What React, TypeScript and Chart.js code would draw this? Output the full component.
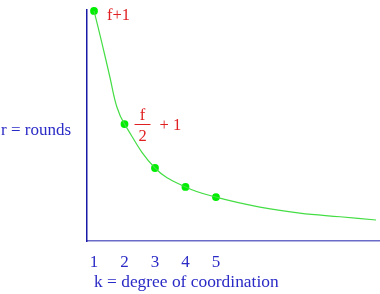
import { useEffect, useRef } from "react";
import { Chart, registerables } from "chart.js";

Chart.register(...registerables);

// k values of the marked points and their r values
const pointK = [1, 2, 3, 4, 5];
const pointR = [9.96, 5.06, 3.16, 2.34, 1.9];
// samples
const curveK = [1, 1.26, 1.52, 1.75, 2, 3, 4, 5, 6.44, 7.75, 9.07, 10.25];
const curveR = [9.96, 8.57, 7.1, 5.8, 5.06, 3.16, 2.34, 1.9, 1.47, 1.21, 1.05, 0.91];
const xTickValues = [1, 2, 3, 4, 5];
const xTitle = "k = degree of coordination";
const yTitle = "r = rounds";
const label1 = "f+1";
const label2Num = "f";
const label2Den = "2";
const label2Rest = "+ 1";

const SERIF = "'Liberation Serif', 'Times New Roman', serif";
const BLUE_TEXT = "#2a2ac6";
const RED = "#e02020";

export default function App() {
  const ref = useRef<HTMLCanvasElement | null>(null);

  useEffect(() => {
    const canvas = ref.current;
    if (!canvas) return;

    const annot = {
      id: "annot",
      afterDraw(chart: any) {
        const ctx = chart.ctx;
        const meta = chart.getDatasetMeta(1);
        const p1 = meta.data[0];
        const p2 = meta.data[1];
        ctx.save();
        ctx.textBaseline = "alphabetic";
        // axis titles
        ctx.fillStyle = BLUE_TEXT;
        ctx.textAlign = "left";
        ctx.font = `17px ${SERIF}`;
        ctx.fillText(yTitle, 1, 135);
        ctx.font = `17.4px ${SERIF}`;
        ctx.fillText(xTitle, 94, 287);
        // labels
        ctx.font = `16.5px ${SERIF}`;
        ctx.fillStyle = RED;
        ctx.fillText(label1, p1.x + 13, p1.y + 9);
        ctx.textAlign = "center";
        const cx = p2.x + 18;
        ctx.fillText(label2Num, cx, p2.y - 4);
        ctx.fillText(label2Den, cx, p2.y + 17);
        ctx.strokeStyle = RED;
        ctx.lineWidth = 1;
        ctx.beginPath();
        ctx.moveTo(cx - 8, Math.round(p2.y) + 0.5);
        ctx.lineTo(cx + 8, Math.round(p2.y) + 0.5);
        ctx.stroke();
        ctx.textAlign = "left";
        ctx.fillText(label2Rest, p2.x + 35, p2.y + 6);
        ctx.restore();
      },
    };

    const chart = new Chart(canvas, {
      type: "scatter",
      data: {
        datasets: [
          {
            data: curveK.map((k, i) => ({ x: k, y: curveR[i] })),
            showLine: true,
            borderColor: "#44dd44",
            borderWidth: 1.2,
            pointRadius: 0,
            tension: 0.4,
            fill: false,
            clip: false,
          },
          {
            data: pointK.map((k, i) => ({ x: k, y: pointR[i] })),
            showLine: false,
            pointRadius: 3.9,
            pointBackgroundColor: "#00ee00",
            pointBorderColor: "#00ee00",
            pointBorderWidth: 0,
            clip: false,
          },
        ],
      },
      plugins: [annot],
      options: {
        animation: false,
        responsive: false,
        maintainAspectRatio: false,
        layout: { autoPadding: false, padding: { top: 10, left: 0, right: 0, bottom: 0 } },
        plugins: {
          legend: { display: false },
          tooltip: { enabled: false },
          title: { display: false },
        },
        scales: {
          x: {
            type: "linear",
            min: 0.77,
            max: 10.38,
            afterBuildTicks: (scale: any) => {
              scale.ticks = xTickValues.map((v) => ({ value: v }));
            },
            afterFit: (scale: any) => {
              scale.height = 53;
            },
            grid: { display: false, drawTicks: false },
            border: { display: true, color: "#6a6ac8", width: 1.5 },
            ticks: {
              color: BLUE_TEXT,
              font: { family: SERIF, size: 17 },
              padding: 11,
              maxRotation: 0,
              autoSkip: false,
              callback: (v: any) => String(v),
            },
          },
          y: {
            type: "linear",
            min: 0,
            max: 10,
            afterFit: (scale: any) => {
              scale.width = 87;
            },
            grid: { display: false, drawTicks: false },
            border: { display: true, color: "#1a1aa8", width: 1.5 },
            ticks: { display: false },
          },
        },
      },
    } as any);

    return () => chart.destroy();
  }, []);

  return (
    <div style={{ position: "fixed", left: 0, top: 0, width: 380, height: 294, background: "#fff" }}>
      <canvas ref={ref} width={380} height={294} style={{ width: 380, height: 294, display: "block" }} />
    </div>
  );
}
